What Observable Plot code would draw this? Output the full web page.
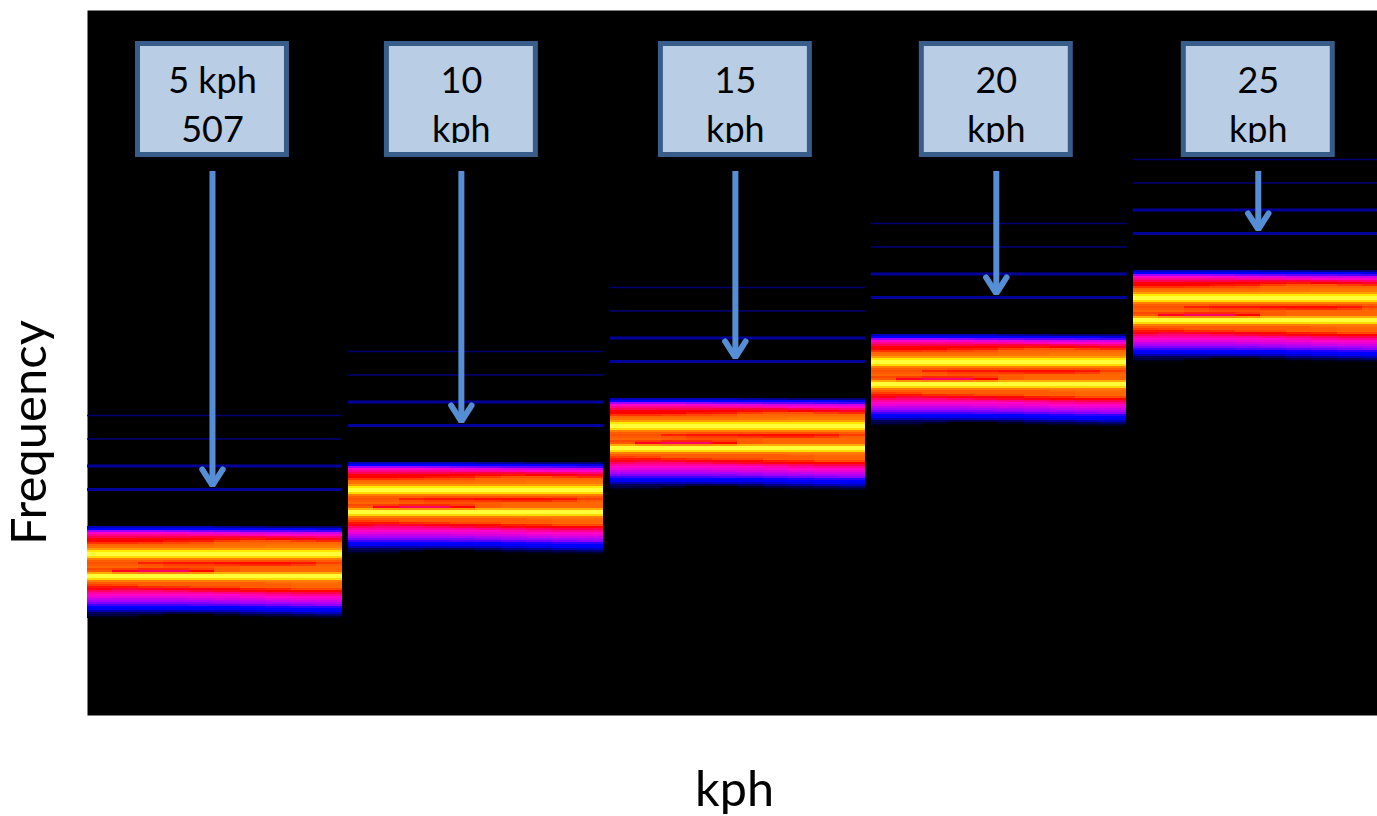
<!DOCTYPE html>
<html>
<head>
<meta charset="utf-8">
<style>html,body{margin:0;padding:0;background:#fff}svg{display:block}</style>
<script src="https://cdn.jsdelivr.net/npm/d3@7"></script>
<script src="https://cdn.jsdelivr.net/npm/@observablehq/plot@0.6"></script>
</head>
<body>
<div id="chart"></div>
<script>
// Panels on the kph axis
const panelStart = [2.5, 7.49, 12.5, 17.49, 22.5];
const panelEnd = [7.376, 12.385, 17.376, 22.385, 27.17];
// Upward frequency shift of each panel's spectrum
const panelShift = [0, 64, 128, 192, 256];
// Label boxes
const arrowKph = [4.89, 9.65, 14.89, 19.88, 24.89];
const boxFirstLine = ["5 kph", "10", "15", "20", "25"];
const boxSecondLine = ["507", "kph", "kph", "kph", "kph"];
const arrowTopFreq = 544;
const arrowTipFreq = [225, 289, 353, 417, 481];
// Faint harmonic lines of panel 1: frequency, level and thickness
const harmonicFreq = [300, 276.5, 249.5, 226];
const harmonicLevel = [0.95, 1.0, 1.25, 1.25];
const harmonicWidth = [1.5, 1.7, 3, 3];
// Top frequency of each 2-unit spectrum row in panel 1
const rowFreq = [191,189,187,185,183,181,179,177,175,173,171,169,167,165,163,161,159,157,155,153,151,149,147,145,143,141,139,137,135,133,131,129,127,125,123,121,119,117,115,113,111,109,107,105,103,101,99];
// Spectrum level, one row per frequency, ten columns across a panel
const spectrum = [
[0,0,0,0,0,0,0,0,0,0],
[1.5,1.5,1.5,1.5,1.5,1.3,1.2,1,1,1],
[2,2,2,2,2,2,2,2,2,1.8],
[3,3,3,2.9,2.8,2.7,2.6,2.6,2.5,2.4],
[4,4,4,3.9,3.8,3.7,3.6,3.5,3.5,3.5],
[4.3,4.3,4.3,4.3,4.2,4.2,4.1,4,4,4],
[4.6,4.6,4.6,4.6,4.7,4.7,4.7,4.6,4.5,4.4],
[5,5,5,5,5,5.1,5.2,5,4.9,4.8],
[5,5,5,5.2,5.3,5.6,5.8,5.8,5.6,5.4],
[5.5,5.5,5.6,5.7,5.8,6,6,6,6,6],
[6,6,6,6,6,6.1,6.1,6.2,6.2,6.2],
[6.2,6.2,6.2,6.2,6.2,6.3,6.3,6.4,6.4,6.4],
[6.9,6.9,6.9,6.9,6.9,6.9,6.9,6.9,6.9,6.9],
[8,8,8,8,8,8,8,8,8,8],
[8.9,8.9,8.9,8.9,8.9,8.9,8.9,8.9,8.9,8.9],
[8.9,8.9,8.9,8.9,8.9,8.9,8.9,8.9,8.9,8.9],
[7.8,7.8,7.8,7.8,7.8,7.8,7.8,7.8,7.8,7.8],
[6.4,6.4,6.4,6.4,6.4,6.4,6.4,6.4,6.4,6.4],
[5.9,5.9,5.9,5.8,5.8,5.8,5.8,5.8,5.8,5.9],
[5.8,5.8,5.3,5.2,5.2,5.1,5.1,5.1,5.2,5.6],
[5.9,5.9,5.8,5.6,5.6,5.5,5.4,5.4,5.6,5.9],
[6,6,5.9,5.8,5.8,5.9,6,6,6,6],
[5.7,5.6,5.4,5.4,5.6,5.9,6,6,6,6],
[5.9,4.8,4.5,4.5,5,5.9,6,6,6,6],
[7.2,6.8,6.6,6.6,6.8,7.2,7.2,7.2,7.2,7.2],
[8.9,8.9,8.9,8.9,8.9,8.9,8.9,8.9,8.9,8.9],
[8.9,8.9,8.9,8.9,8.9,8.9,8.9,8.9,8.9,8.9],
[7.8,7.8,7.8,7.8,7.8,7.8,7.8,7.8,7.8,7.8],
[6.4,6.4,6.4,6.4,6.4,6.4,6.4,6.4,6.4,6.4],
[5.9,5.9,5.9,5.9,5.9,5.9,5.9,6,6.1,6.1],
[5.6,5.7,5.9,5.9,5.9,5.9,5.9,5.9,6,6],
[5.2,5.2,5.4,5.5,5.7,5.7,5.9,5.9,6,6],
[4.9,4.7,4.8,4.9,4.9,5.1,5.3,5.4,5.7,5.7],
[4.5,4.4,4.4,4.5,4.7,4.8,4.9,5,5,5],
[4.2,4.2,4.2,4.2,4.2,4.3,4.4,4.5,4.6,4.6],
[4,4,4,4,4,4,4.1,4.2,4.3,4.3],
[3.8,3.7,3.7,3.7,3.8,3.8,3.9,4,4,4],
[3.4,3.4,3.4,3.4,3.5,3.6,3.6,3.7,3.8,3.8],
[3.1,3.1,3.1,3.1,3.1,3.2,3.3,3.4,3.5,3.5],
[2.8,2.8,2.8,2.8,2.8,2.9,3,3,3.1,3.2],
[2.4,2.4,2.4,2.4,2.5,2.5,2.6,2.7,2.8,2.9],
[2,2,2,2,2,2,2.1,2.2,2.3,2.3],
[1.9,1.9,1.9,1.9,1.9,1.9,2,2,2,2],
[1.4,1.4,1.4,1.4,1.5,1.5,1.7,1.8,1.9,1.9],
[0.7,0.7,0.8,0.6,0.6,0.8,1.1,1.2,1.4,1.5],
[0.6,0.5,0.3,0,0,0.3,0.5,0.6,0.7,0.9],
[0.2,0.2,0,0,0,0,0.1,0.2,0.3,0.4]
];
const levelStops = [0,1,2,3,4,5,6,7,8,9];
const levelColors = ["#000000","#000078","#0000ff","#a000ff","#ff00c8","#ff0000","#ff6600","#ffa000","#ffe800","#ffff40"];

const cells = [];
panelStart.forEach((start, p) => {
  const w = (panelEnd[0] - panelStart[0]) / spectrum[0].length;
  spectrum.forEach((row, r) => row.forEach((level, c) => {
    if (level > 0) cells.push({
      x1: start + c * w, x2: start + (c + 1) * w,
      y1: rowFreq[r] - 2 + panelShift[p], y2: rowFreq[r] + panelShift[p], level
    });
  }));
});
const harmonics = panelStart.flatMap((start, p) => harmonicFreq.map((f, i) => ({
  x1: start, x2: panelEnd[p], y: f + panelShift[p], level: harmonicLevel[i], w: harmonicWidth[i]
})));
const boxes = arrowKph.map((k, i) => ({k, a: boxFirstLine[i], b: boxSecondLine[i], tip: arrowTipFreq[i]}));
// Arrow-head chevrons, one three-point polyline per arrow
const headHalf = 0.195, headApex = 5, headWing = 21;
const chevrons = boxes.flatMap((b, i) => [
  {id: i, x: b.k - headHalf, y: b.tip + headWing},
  {id: i, x: b.k, y: b.tip + headApex},
  {id: i, x: b.k + headHalf, y: b.tip + headWing}
]);
const boxHalf = 1.4245, boxTop = 671.5, boxBottom = 560.5, clipFreq = 572;

const chart = Plot.plot({
  width: 1377, height: 816,
  marginLeft: 87, marginRight: 0, marginTop: 10, marginBottom: 101,
  style: {background: "#fff", fontFamily: "Lato, sans-serif", overflow: "visible"},
  x: {domain: [2.5, 27.17], axis: null},
  y: {domain: [0, 705], axis: null},
  color: {type: "linear", domain: levelStops, range: levelColors, interpolate: "rgb"},
  marks: [
    Plot.frame({fill: "#000", stroke: "none"}),
    Plot.rect(cells, {x1: "x1", x2: "x2", y1: "y1", y2: "y2", fill: "level", clip: true, shapeRendering: "crispEdges"}),
    Plot.ruleY(harmonics, {y: "y", x1: "x1", x2: "x2", stroke: "level", strokeWidth: "w", clip: true}),
    Plot.rect(boxes, {x1: d => d.k - boxHalf, x2: d => d.k + boxHalf, y1: boxBottom, y2: boxTop, fill: "#b9cde5"}),
    Plot.text(boxes, {x: "k", y: 634, text: "a", fontSize: 36, fill: "#000"}),
    Plot.text(boxes, {x: "k", y: 585, text: "b", fontSize: 36, fill: "#000"}),
    Plot.rect(boxes, {x1: d => d.k - boxHalf, x2: d => d.k + boxHalf, y1: boxBottom, y2: clipFreq, fill: "#b9cde5"}),
    Plot.rect(boxes, {x1: d => d.k - boxHalf, x2: d => d.k + boxHalf, y1: boxBottom, y2: boxTop, fill: "none", stroke: "#385d8a", strokeWidth: 5}),
    Plot.ruleX(boxes, {x: "k", y1: arrowTopFreq, y2: d => d.tip + 6, stroke: "#558ed5", strokeWidth: 6}),
    Plot.line(chevrons, {x: "x", y: "y", z: "id", curve: "linear", stroke: "#558ed5", strokeWidth: 6, strokeLinejoin: "miter", strokeLinecap: "round"}),
    Plot.text(["Frequency"], {frameAnchor: "left", dx: -57, dy: 182, rotate: -90, text: d => d, fontSize: 49, fill: "#000"}),
    Plot.text(["kph"], {frameAnchor: "bottom", dy: 90, dx: 2, text: d => d, fontSize: 48.5, fill: "#000"})
  ]
});
document.getElementById("chart").append(chart);
</script>
</body>
</html>
